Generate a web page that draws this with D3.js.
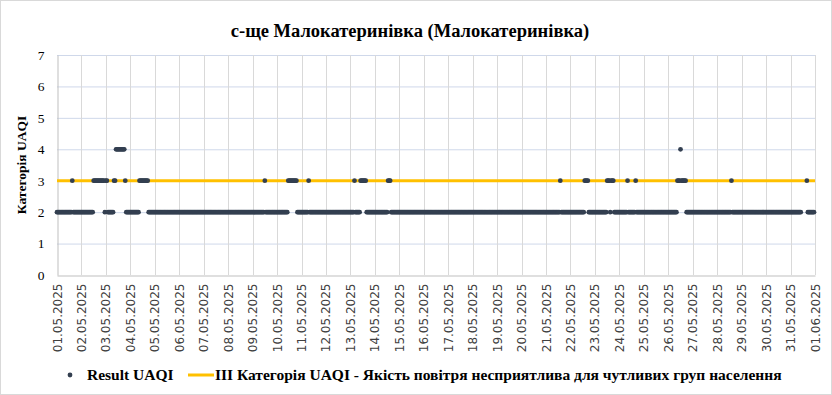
<!DOCTYPE html>
<html>
<head>
<meta charset="utf-8">
<script src="https://cdn.jsdelivr.net/npm/d3@7"></script>
<style>
  body { margin: 0; background: #fff; }
  svg { display: block; }
</style>
</head>
<body>
<div class="canvas"></div>
<script>
// chart data: one string per day, one char per hour
// '2','3','4' = UAQI category, '.' = no reading
const startDay = '2025-05-01';
const dayValues = [
  '222222222222222322222222', // 01.05
  '222222222222333333333332', // 02.05
  '332222223344444444432222', // 03.05
  '222222222333333333222222', // 04.05
  '222222222222222222222222', // 05.05
  '222222222222222222222222', // 06.05
  '222222222222222222222222', // 07.05
  '222222222222222222222222', // 08.05
  '222222222222322222222222', // 09.05
  '222222222223333333332222', // 10.05
  '222222232222222222222222', // 11.05
  '222222222222222222222222', // 12.05
  '222232222233333322222222', // 13.05
  '222222222222233322222222', // 14.05
  '222222222222222222222222', // 15.05
  '222222222222222222222222', // 16.05
  '222222222222222222222222', // 17.05
  '222222222222222222222222', // 18.05
  '222222222222222222222222', // 19.05
  '222222222222222222222222', // 20.05
  '222222222222223222222222', // 21.05
  '222222222222223333222222', // 22.05
  '222222222222333233322222', // 23.05
  '222222223222222232222222', // 24.05
  '222222222222222222222222', // 25.05
  '222222222333433333222222', // 26.05
  '222222222222222222222222', // 27.05
  '222222222222223222222222', // 28.05
  '222222222222222222222222', // 29.05
  '222222222222222222222222', // 30.05
  '22222222222.....32222222'  // 31.05
];
const yTicks = [0, 1, 2, 3, 4, 5, 6, 7];
const thresholdValue = 3;
const titleText = 'с-ще Малокатеринівка (Малокатеринівка)';
const yTitleText = 'Категорія UAQI';
const seriesName = 'Result UAQI';
const thresholdName = 'III Категорія UAQI - Якість повітря несприятлива для чутливих груп населення';

const width = 832, height = 395;
const margin = {top: 55, right: 17, bottom: 120, left: 57};
const graphWidth = width - margin.left - margin.right;
const graphHeight = height - margin.top - margin.bottom;

const dotColor = '#333F50';
const lineColor = '#FFC000';
const serif = '"Liberation Serif", "Times New Roman", serif';

// flatten the day strings into hourly points
const t0 = new Date(startDay + 'T00:00:00Z');
const points = [];
dayValues.forEach((s, d) => {
  s.split('').forEach((c, h) => {
    if (c === '.') return;
    points.push({date: new Date(t0.getTime() + (d * 24 + h) * 3600000), value: +c});
  });
});
const tEnd = new Date(t0.getTime() + dayValues.length * 24 * 3600000);

const svg = d3.select('.canvas')
  .append('svg')
    .attr('width', width)
    .attr('height', height);

svg.append('rect')
  .attr('x', 0.5).attr('y', 0.5)
  .attr('width', width - 1).attr('height', height - 1)
  .attr('fill', '#fff')
  .attr('stroke', '#D9D9D9');

const graph = svg.append('g')
  .attr('transform', `translate(${margin.left}, ${margin.top})`);

const x = d3.scaleUtc()
  .domain([t0, tEnd])
  .range([0, graphWidth]);

const y = d3.scaleLinear()
  .domain([d3.min(yTicks), d3.max(yTicks)])
  .range([graphHeight, 0]);

const dayTicks = d3.utcDay.range(t0, d3.utcDay.offset(tEnd, 1));

// gridlines
graph.append('g')
  .selectAll('line')
  .data(yTicks.slice(1))
  .enter().append('line')
    .attr('x1', 0).attr('x2', graphWidth)
    .attr('y1', d => y(d) + 0.5).attr('y2', d => y(d) + 0.5)
    .attr('stroke', '#CFD8EA');

graph.append('g')
  .selectAll('line')
  .data(dayTicks.slice(1))
  .enter().append('line')
    .attr('x1', d => Math.round(x(d)) + 0.5).attr('x2', d => Math.round(x(d)) + 0.5)
    .attr('y1', 0).attr('y2', graphHeight)
    .attr('stroke', '#D9D9D9');

// axes
const xAxis = d3.axisBottom(x)
  .tickValues(dayTicks)
  .tickSize(0)
  .tickFormat(d3.utcFormat('%d.%m.%Y'));

const xAxisGroup = graph.append('g')
  .attr('transform', `translate(0, ${graphHeight + 0.5})`)
  .call(xAxis);

xAxisGroup.select('.domain').attr('stroke', '#BFBFBF');
xAxisGroup.selectAll('text')
  .attr('fill', '#404040')
  .style('font-family', '"DejaVu Sans", sans-serif')
  .style('font-size', '12px')
  .attr('y', 0).attr('dy', 0)
  .attr('transform', 'translate(4, 8) rotate(-90)')
  .style('text-anchor', 'end');

const yAxis = d3.axisLeft(y)
  .tickValues(yTicks)
  .tickSize(0)
  .tickPadding(13)
  .tickFormat(d => d);

const yAxisGroup = graph.append('g')
  .attr('transform', 'translate(0.5, 0)')
  .call(yAxis);

yAxisGroup.select('.domain').attr('stroke', '#BFBFBF');
yAxisGroup.selectAll('text')
  .attr('fill', '#000')
  .style('font-family', serif)
  .style('font-size', '13.5px');

// threshold line
graph.append('line')
  .attr('x1', 0).attr('x2', graphWidth)
  .attr('y1', y(thresholdValue)).attr('y2', y(thresholdValue))
  .attr('stroke', lineColor)
  .attr('stroke-width', 3);

// the points
graph.append('g')
  .selectAll('circle')
  .data(points)
  .enter().append('circle')
    .attr('cx', d => x(d.date))
    .attr('cy', d => y(d.value))
    .attr('r', 2.4)
    .attr('fill', dotColor);

// title
svg.append('text')
  .attr('x', 410).attr('y', 37)
  .attr('text-anchor', 'middle')
  .style('font-family', serif)
  .style('font-weight', 'bold')
  .style('font-size', '18.5px')
  .text(titleText);

svg.append('text')
  .attr('transform', `translate(26, ${margin.top + graphHeight / 2}) rotate(-90)`)
  .attr('text-anchor', 'middle')
  .style('font-family', serif)
  .style('font-weight', 'bold')
  .style('font-size', '13.5px')
  .text(yTitleText);

// legend
const legend = svg.append('g')
  .attr('transform', 'translate(0, 375)');

legend.append('circle')
  .attr('cx', 70).attr('cy', 0).attr('r', 2.4)
  .attr('fill', dotColor);

legend.append('text')
  .attr('x', 87).attr('y', 5)
  .style('font-family', serif)
  .style('font-weight', 'bold')
  .style('font-size', '15.5px')
  .text(seriesName);

legend.append('line')
  .attr('x1', 188).attr('x2', 214)
  .attr('y1', 0).attr('y2', 0)
  .attr('stroke', lineColor)
  .attr('stroke-width', 3);

legend.append('text')
  .attr('x', 215).attr('y', 5)
  .style('font-family', serif)
  .style('font-weight', 'bold')
  .style('font-size', '15.5px')
  .text(thresholdName);
</script>
</body>
</html>
